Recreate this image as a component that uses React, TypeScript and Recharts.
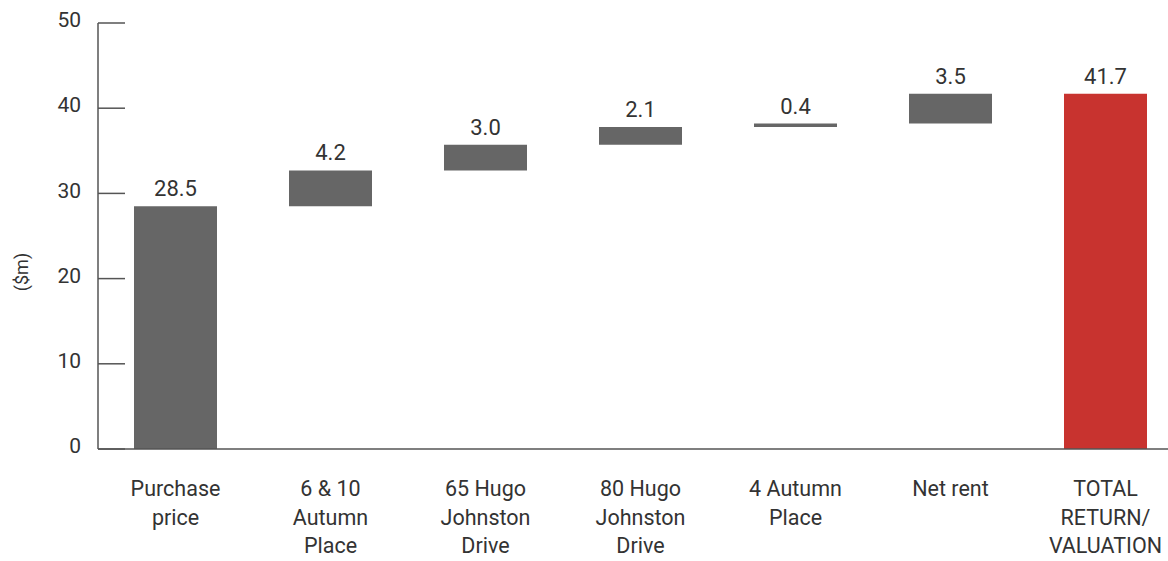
import React from 'react';
import { BarChart, Bar, XAxis, YAxis, LabelList, Cell, Label } from 'recharts';

// waterfall of value change, $m
const categories = [
  'Purchase price',
  '6 & 10 Autumn Place',
  '65 Hugo Johnston Drive',
  '80 Hugo Johnston Drive',
  '4 Autumn Place',
  'Net rent',
  'TOTAL RETURN/ VALUATION'
];
const tickLabels = [
  ['Purchase', 'price'],
  ['6 & 10', 'Autumn', 'Place'],
  ['65 Hugo', 'Johnston', 'Drive'],
  ['80 Hugo', 'Johnston', 'Drive'],
  ['4 Autumn', 'Place'],
  ['Net rent'],
  ['TOTAL', 'RETURN/', 'VALUATION']
];
const changes = [28.5, 4.2, 3.0, 2.1, 0.4, 3.5, 41.7];
const isTotal = [true, false, false, false, false, false, true];
const yTicks = [0, 10, 20, 30, 40, 50];

const GREY = '#666666';
const RED = '#c8332f';
const TEXT = '#333333';
const FONT = 'Roboto, "Noto Sans", sans-serif';

const data = categories.map((name, i) => {
  const base = isTotal[i] ? 0 : changes.slice(0, i).reduce((a, b) => a + b, 0);
  return { name, base, value: changes[i] };
});

const XTick = (props: any) => {
  const { x, y, index } = props;
  const lines = tickLabels[index] || [];
  return (
    <g>
      {lines.map((l, i) => (
        <text
          key={i}
          x={x}
          y={y + 47 + i * 28.5}
          textAnchor="middle"
          fill={TEXT}
          fontSize={21.5}
          fontFamily={FONT}
        >
          {l}
        </text>
      ))}
    </g>
  );
};

const YTick = (props: any) => {
  const { x, y, payload } = props;
  return (
    <g>
      <line x1={x} x2={x + 27} y1={y} y2={y} stroke="#555" strokeWidth={1.5} />
      <text
        x={x - 17}
        y={y}
        dy="0.2em"
        textAnchor="end"
        fill={TEXT}
        fontSize={21}
        fontFamily={FONT}
      >
        {payload.value}
      </text>
    </g>
  );
};

export default function App() {
  return (
    <div
      style={{
        position: 'absolute',
        left: 0,
        top: 0,
        width: 1168,
        height: 561,
        overflow: 'hidden',
        background: '#fff'
      }}
    >
      <BarChart
        width={1200}
        height={561}
        data={data}
        margin={{ top: 23, right: 17, bottom: 12, left: 0 }}
      >
        <XAxis
          dataKey="name"
          height={100}
          interval={0}
          tickLine={false}
          tickSize={0}
          tickMargin={0}
          axisLine={{ stroke: '#555', strokeWidth: 1.5 }}
          tick={<XTick />}
        />
        <YAxis
          width={98}
          domain={[0, 50]}
          ticks={yTicks}
          tickLine={false}
          tickSize={0}
          tickMargin={0}
          axisLine={{ stroke: '#555', strokeWidth: 1.5 }}
          tick={<YTick />}
        >
          <Label
            value="($m)"
            angle={-90}
            position="center"
            dx={-27}
            dy={36}
            fill={TEXT}
            fontSize={18}
            fontFamily={FONT}
          />
        </YAxis>
        <Bar dataKey="base" stackId="a" fill="transparent" barSize={83} isAnimationActive={false} />
        <Bar dataKey="value" stackId="a" barSize={83} isAnimationActive={false}>
          {data.map((d, i) => (
            <Cell key={`cell-${i}`} fill={i === data.length - 1 ? RED : GREY} />
          ))}
          <LabelList
            dataKey="value"
            position="top"
            offset={10}
            formatter={(v: any) => Number(v).toFixed(1)}
            fill={TEXT}
            fontSize={22}
            fontFamily={FONT}
          />
        </Bar>
      </BarChart>
    </div>
  );
}
